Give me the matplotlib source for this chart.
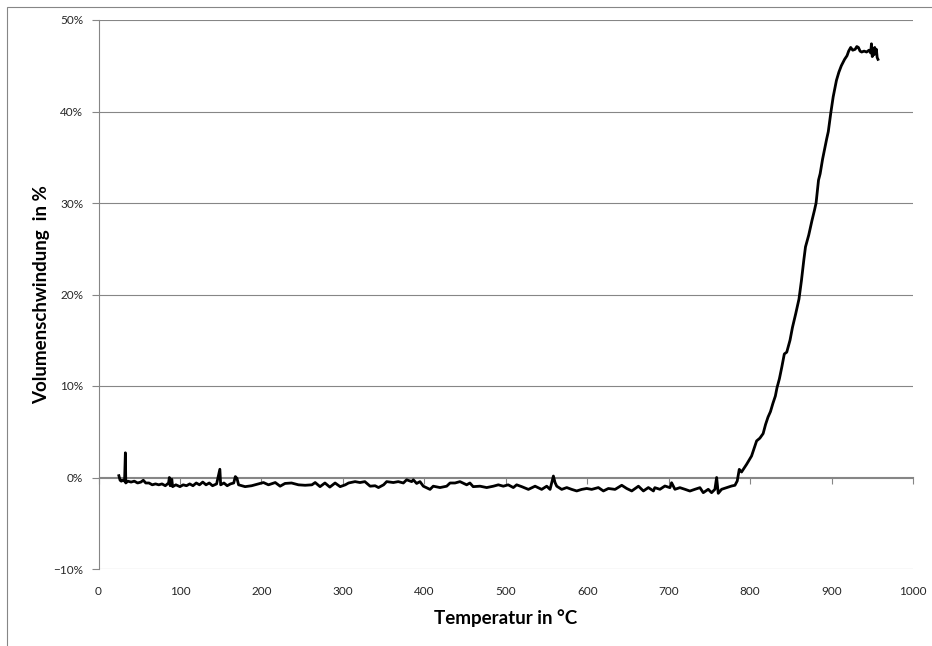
import matplotlib
matplotlib.use("Agg")
import matplotlib.pyplot as plt
from matplotlib.ticker import PercentFormatter
from matplotlib.patches import Rectangle

# values: temperature in degC, volume shrinkage in %
temp = [
    25.0, 26.5, 28, 30, 32, 33, 33.5, 36, 40, 44, 48, 52, 55, 58, 62, 66, 70, 74, 78, 82,
    86, 87, 88, 90, 91, 95, 100, 104, 108, 112, 116, 120, 124, 128, 132, 136, 140, 145, 149, 150,
    154, 158, 162, 166, 168, 170, 172, 176, 180, 188, 194, 202.5, 208.7, 217, 223, 229, 237, 245.5, 253.7, 262,
    266, 272, 278, 284, 290.5, 296.7, 303, 307, 315, 321, 327, 333.5, 339.6, 343.7, 350, 353.8, 362, 368, 374.3, 378.3,
    384.5, 386.5, 390.6, 394.7, 398.8, 407, 411, 419.3, 427.5, 431.6, 437.7, 443.8, 452, 456, 460, 468.4, 476.6, 484.8, 490.9, 497,
    503, 509.3, 513.4, 519.6, 527.8, 536, 544.1, 550.3, 554.4, 558.5, 560.5, 562.6, 568.7, 574.9, 581, 587.1, 593.3, 599.4, 605.5, 613.7,
    619.9, 626, 634.2, 642.4, 648.5, 654.7, 662.9, 669, 675.1, 681.3, 683, 689.3, 695.4, 701.6, 703.6, 707.7, 713.8, 720, 726.1, 732.2,
    738.4, 742.5, 748.6, 752.7, 756.8, 758.9, 760.9, 765, 771.1, 777.3, 781.4, 784.2, 786.7, 789.5, 795.7, 801.8, 808, 812, 816, 819,
    822, 825, 828, 831, 833, 836, 839, 842, 845, 849, 852, 856, 860, 863, 866, 868, 872, 876, 879, 881,
    884, 886, 889, 891, 894, 896, 899, 902, 904, 906, 909, 912, 916, 919, 921, 923.5, 926, 929, 931, 933,
    935, 937, 940, 943, 946, 948, 949, 950, 951, 952, 953, 954, 955, 956, 957,
]
shrink = [
    0.2, -0.3, -0.4, -0.3, -0.4, 2.7, -0.6, -0.4, -0.5, -0.4, -0.6, -0.5, -0.3, -0.6, -0.6, -0.8, -0.7, -0.8, -0.7, -0.9,
    -0.6, 0.0, -0.9, -0.2, -1.0, -0.8, -1.0, -0.8, -0.9, -0.7, -0.9, -0.6, -0.8, -0.5, -0.8, -0.6, -0.9, -0.7, 0.9, -0.8,
    -0.6, -0.9, -0.7, -0.6, 0.1, -0.1, -0.8, -0.9, -1.0, -0.9, -0.75, -0.55, -0.8, -0.55, -0.95, -0.65, -0.6, -0.8, -0.85, -0.8,
    -0.55, -1.0, -0.6, -1.05, -0.6, -1.0, -0.8, -0.6, -0.45, -0.55, -0.45, -0.95, -0.9, -1.1, -0.8, -0.45, -0.55, -0.45, -0.6, -0.25,
    -0.45, -0.25, -0.65, -0.45, -0.95, -1.3, -0.95, -1.1, -0.95, -0.6, -0.6, -0.45, -0.8, -0.6, -1.0, -0.95, -1.1, -0.95, -0.8, -0.95,
    -0.8, -1.1, -0.8, -1.0, -1.3, -0.95, -1.3, -0.95, -1.3, 0.16, -0.55, -0.95, -1.3, -1.1, -1.3, -1.47, -1.3, -1.2, -1.3, -1.1,
    -1.47, -1.2, -1.3, -0.85, -1.2, -1.47, -0.95, -1.47, -1.1, -1.47, -1.11, -1.29, -0.93, -1.11, -0.57, -1.29, -1.11, -1.29, -1.48, -1.29,
    -1.11, -1.66, -1.29, -1.66, -1.29, 0.0, -1.73, -1.29, -1.11, -0.93, -0.85, -0.38, 0.89, 0.6, 1.44, 2.35, 4.0, 4.3, 4.8, 5.8,
    6.6, 7.2, 8.1, 8.9, 9.8, 10.8, 12.1, 13.5, 13.7, 15.0, 16.4, 17.9, 19.5, 21.5, 23.8, 25.2, 26.5, 28.1, 29.2, 30.0,
    32.5, 33.2, 34.8, 35.7, 37.0, 37.8, 39.8, 41.6, 42.5, 43.4, 44.3, 45.0, 45.7, 46.1, 46.6, 47.0, 46.7, 46.8, 47.1, 47.0,
    46.6, 46.5, 46.6, 46.5, 46.7, 46.4, 47.4, 46.0, 46.9, 46.2, 47.0, 46.3, 46.8, 45.9, 45.7,
]

x_ticks = [0, 100, 200, 300, 400, 500, 600, 700, 800, 900, 1000]
y_ticks = [-10, 0, 10, 20, 30, 40, 50]

plt.rcParams['font.family'] = ['Lato', 'DejaVu Sans']
grey = '#868686'
txt = '#262626'

fig = plt.figure(figsize=(9.32, 6.46), dpi=100)
ax = fig.add_axes([98.5 / 932, 1 - 569 / 646, (913 - 98.5) / 932, (569 - 20) / 646])

# chart-area frame (only top/left visible in the picture)
fig.patches.append(Rectangle((7 / 932, -0.1), 1.2, 1 - 7 / 646 + 0.1, transform=fig.transFigure,
                             fill=False, edgecolor=grey, linewidth=0.8))

ax.plot(temp, shrink, color='black', linewidth=2.0, solid_joinstyle='round', zorder=3)

ax.set_xlim(0, 1000)
ax.set_ylim(-10, 50)
ax.set_xticks(x_ticks)
ax.set_yticks(y_ticks)
ax.yaxis.set_major_formatter(PercentFormatter(decimals=0))
ax.grid(axis='y', color=grey, linewidth=0.8)
ax.set_axisbelow(True)

for s in ['top', 'right', 'bottom']:
    ax.spines[s].set_visible(False)
ax.spines['left'].set_color(grey)
ax.spines['left'].set_linewidth(0.8)
ax.tick_params(axis='y', direction='out', length=5, color=grey, width=0.8,
               labelsize=8.5, labelcolor=txt, pad=6)
ax.tick_params(axis='x', length=0, labelsize=8.5, labelcolor=txt, pad=12)

# horizontal axis line sits at 0 %
sec = ax.secondary_xaxis(1 / 6)
sec.set_xticks(x_ticks)
sec.tick_params(axis='x', direction='out', length=5, color=grey, width=0.8, labelbottom=False)
sec.spines['bottom'].set_color(grey)
sec.spines['bottom'].set_linewidth(0.8)

ax.set_xlabel('Temperatur in °C', fontsize=13.5, fontweight='bold', color='black', labelpad=9)
ax.set_ylabel('Volumenschwindung  in %', fontsize=13.5, fontweight='bold', color='black', labelpad=2)

fig.savefig('out.png', dpi=100)
